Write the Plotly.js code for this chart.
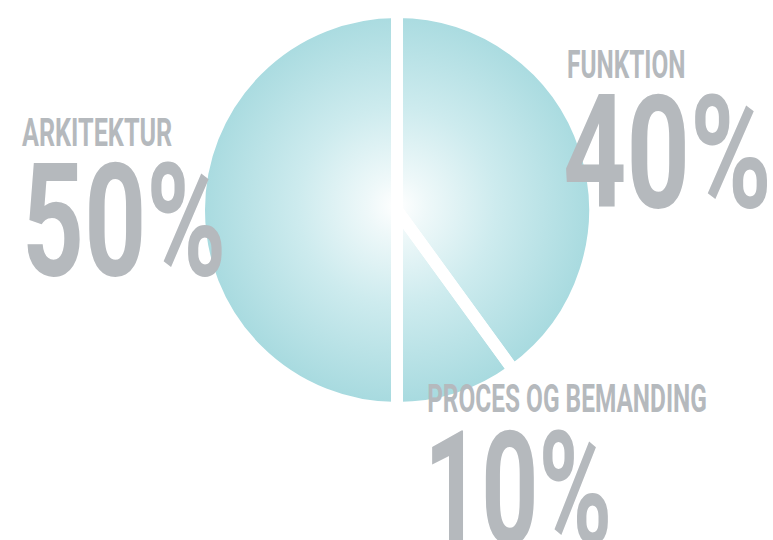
<!DOCTYPE html>
<html>
<head>
<meta charset="utf-8">
<script src="https://cdn.plot.ly/plotly-3.0.1.min.js"></script>
<style>
html,body{margin:0;padding:0;background:#fff;}
#chart{width:773px;height:540px;}
/* condensed look: squeeze annotation glyphs horizontally from their left edge */
#chart .annotation-text{transform-box:fill-box;transform-origin:0% 50%;transform:scaleX(0.68);}
#chart .annotation[data-index="0"] .annotation-text{transform:scaleX(0.646);}
#chart .annotation[data-index="1"] .annotation-text{transform:scaleX(0.69);}
#chart .annotation[data-index="2"] .annotation-text{transform:scaleX(0.626);}
#chart .annotation[data-index="3"] .annotation-text{transform:scaleX(0.705);}
#chart .annotation[data-index="4"] .annotation-text{transform:scaleX(0.626);}
#chart .annotation[data-index="5"] .annotation-text{transform:scaleX(0.635);}
</style>
</head>
<body>
<div id="chart"></div>
<script>
// Data
const categories = ["FUNKTION", "PROCES OG BEMANDING", "ARKITEKTUR"];
const shares = [40, 10, 50];
const shareLabels = ["40%", "10%", "50%"];

const W = 773, H = 540;
const cx = 397, cy = 210, R = 198; // pie centre and outer radius (px)
const FONT = "Roboto, Liberation Sans, sans-serif";
const GREY = "#b5b9bd";

const grad = '<svg xmlns="http://www.w3.org/2000/svg" width="400" height="400" viewBox="0 0 400 400">' +
  '<defs><radialGradient id="g" cx="50%" cy="49%" r="50%">' +
  '<stop offset="0" stop-color="#ffffff"/>' +
  '<stop offset="0.15" stop-color="#eef8f9"/>' +
  '<stop offset="0.5" stop-color="#cdebee"/>' +
  '<stop offset="1" stop-color="#a7dadf"/>' +
  '</radialGradient></defs><circle cx="200" cy="200" r="200" fill="url(#g)"/></svg>';

const trace = {
  type: "pie",
  labels: categories,
  values: shares,
  sort: false,
  direction: "clockwise",
  rotation: 0,
  textinfo: "none",
  hoverinfo: "label+percent",
  showlegend: false,
  marker: {colors: categories.map(() => "rgba(0,0,0,0)"), line: {color: "#ffffff", width: 12}},
  domain: {x: [(cx - R) / W, (cx + R) / W], y: [(H - cy - R) / H, (H - cy + R) / H]}
};

function ann(text, xpx, ypx, size) {
  return {text: text, xref: "paper", yref: "paper", x: xpx / W, y: 1 - ypx / H,
    xanchor: "left", yanchor: "middle", showarrow: false, borderpad: 0, borderwidth: 0,
    font: {family: FONT, size: size, color: GREY, weight: 700}};
}

const layout = {
  width: W, height: H,
  margin: {l: 0, r: 0, t: 0, b: 0},
  paper_bgcolor: "#ffffff",
  images: [{source: "data:image/svg+xml;charset=utf-8," + encodeURIComponent(grad),
    xref: "paper", yref: "paper", x: (cx - R) / W, y: 1 - (cy - R) / H,
    sizex: 2 * R / W, sizey: 2 * R / H, sizing: "stretch", xanchor: "left", yanchor: "top", layer: "below"}],
  annotations: [
    ann(categories[2], 22, 133, 39),
    ann(shareLabels[2], 22, 221, 157),
    ann(categories[0], 567, 65, 39),
    ann(shareLabels[0], 563, 153, 157),
    ann(categories[1], 427, 399, 39),
    ann(shareLabels[1], 424, 489, 157)
  ]
};

Plotly.newPlot("chart", [trace], layout, {displayModeBar: false, staticPlot: true});
</script>
</body>
</html>
